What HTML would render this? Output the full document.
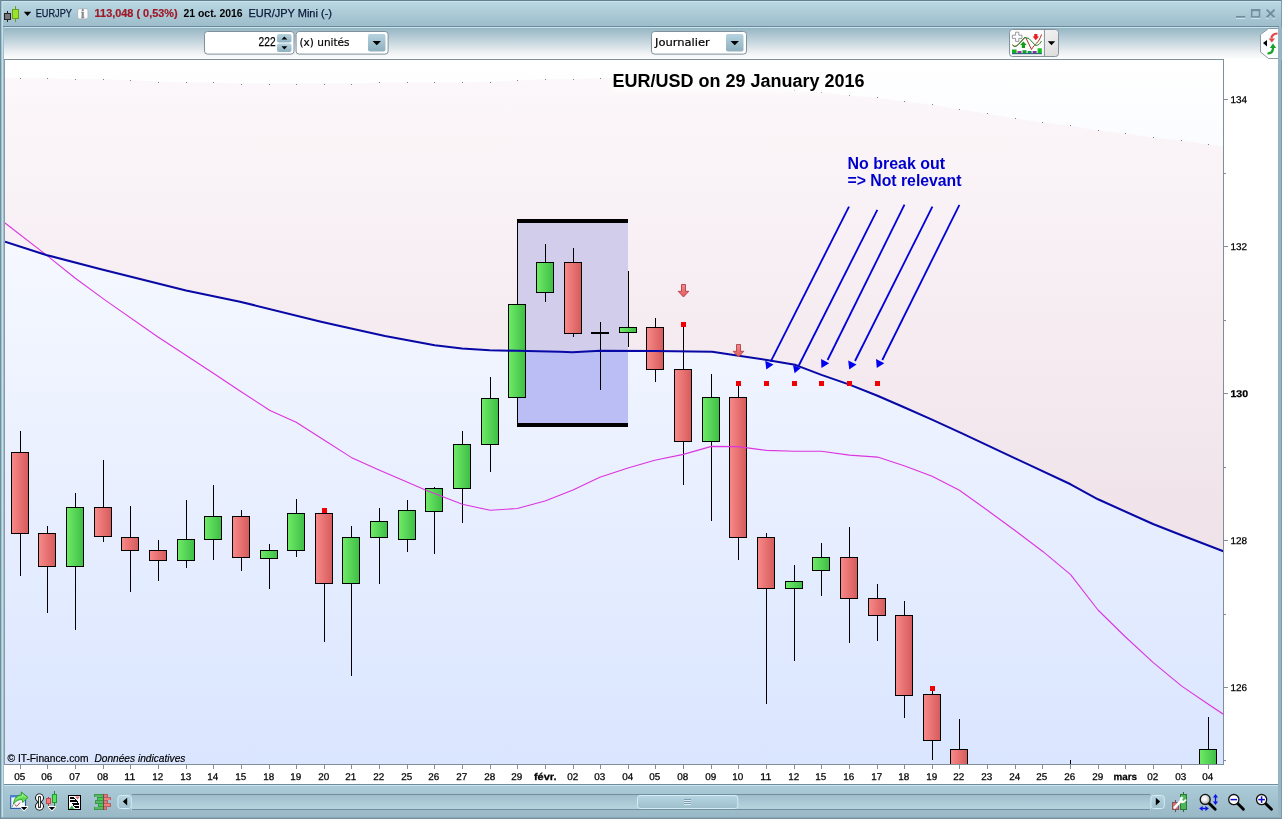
<!DOCTYPE html>
<html lang="fr">
<head>
<meta charset="utf-8">
<title>EURJPY - EUR/JPY Mini</title>
<style>
html,body{margin:0;padding:0;background:#9fbccb;overflow:hidden}
body{width:1282px;height:819px;position:relative;font-family:"Liberation Sans",sans-serif}
svg{position:absolute;left:0;top:0;display:block}
text{font-family:"Liberation Sans",sans-serif;font-size:11px;fill:#000}
.ui{font-family:"Liberation Sans",sans-serif;font-size:11px}
.dv{font-family:"DejaVu Sans","Liberation Sans",sans-serif;font-size:11px;stroke:#000;stroke-width:0.2px}
.ax{font-family:"Liberation Sans",sans-serif;font-size:9.8px;stroke:#000;stroke-width:0.25px;text-rendering:geometricPrecision}
.b{font-weight:bold}
.i{font-style:italic}
.crisp{shape-rendering:crispEdges}
</style>
</head>
<body>
<svg width="1282" height="819" viewBox="0 0 1282 819">
<defs>
<linearGradient id="gTitle" x1="0" y1="0" x2="0" y2="1"><stop offset="0" stop-color="#bcdae5"/><stop offset="0.55" stop-color="#a9c9d6"/><stop offset="1" stop-color="#9cbccb"/></linearGradient>
<linearGradient id="gTool" x1="0" y1="0" x2="0" y2="1"><stop offset="0" stop-color="#95b6c4"/><stop offset="0.5" stop-color="#ccdae1"/><stop offset="0.8" stop-color="#eef1f3"/><stop offset="1" stop-color="#fdfefe"/></linearGradient>
<linearGradient id="gBot" x1="0" y1="0" x2="0" y2="1"><stop offset="0" stop-color="#adccd9"/><stop offset="0.3" stop-color="#a5c5d3"/><stop offset="1" stop-color="#98b8c5"/></linearGradient>
<linearGradient id="gBg" x1="0" y1="0" x2="0" y2="1"><stop offset="0" stop-color="#ffffff"/><stop offset="1" stop-color="#dae5ff"/></linearGradient>
<linearGradient id="gPink" gradientUnits="userSpaceOnUse" x1="0" y1="78" x2="0" y2="552"><stop offset="0" stop-color="#fcf7fa"/><stop offset="1" stop-color="#efe2e8"/></linearGradient>
<linearGradient id="gG" x1="0" y1="0" x2="1" y2="0"><stop offset="0" stop-color="#6eea66"/><stop offset="1" stop-color="#3fbf47"/></linearGradient>
<linearGradient id="gR" x1="0" y1="0" x2="1" y2="0"><stop offset="0" stop-color="#f88888"/><stop offset="1" stop-color="#d65c5c"/></linearGradient>
<linearGradient id="gBtn" x1="0" y1="0" x2="0" y2="1"><stop offset="0" stop-color="#b5d3df"/><stop offset="1" stop-color="#8fb0c0"/></linearGradient>
<linearGradient id="gThumb" x1="0" y1="0" x2="0" y2="1"><stop offset="0" stop-color="#b6d5e2"/><stop offset="1" stop-color="#9fbfcd"/></linearGradient>
<linearGradient id="gArr" x1="0" y1="0" x2="0" y2="1"><stop offset="0" stop-color="#f88a8a"/><stop offset="1" stop-color="#e05a5a"/></linearGradient>
<clipPath id="cChart"><rect x="5" y="60" width="1218" height="704"/></clipPath>
</defs>

<rect x="0" y="0" width="1282" height="819" fill="#9fbdcb"/>
<rect x="0" y="0" width="1282" height="27" fill="url(#gTitle)"/>
<rect class="crisp" x="0" y="0" width="1282" height="1" fill="#65818f"/>
<rect class="crisp" x="0" y="1" width="1282" height="1" fill="#c9e2ec"/>
<rect class="crisp" x="3" y="26" width="1276" height="1" fill="#6c8999"/>
<rect class="crisp" x="3" y="27" width="1276" height="1" fill="#c8e4ef"/>
<rect x="4" y="28" width="1275" height="31" fill="url(#gTool)"/>
<rect class="crisp" x="4" y="59" width="1274" height="726" fill="#ffffff"/>
<rect class="crisp" x="4" y="59" width="1220" height="1" fill="#7f8f99"/>
<rect x="0" y="785" width="1282" height="34" fill="url(#gBot)"/>
<rect class="crisp" x="4" y="784" width="1274" height="1" fill="#708d9c"/>
<rect class="crisp" x="4" y="785" width="1274" height="1" fill="#c8e5f1"/>
<rect class="crisp" x="0" y="817" width="1282" height="1" fill="#8aa9b7"/><rect class="crisp" x="0" y="818" width="1282" height="1" fill="#74919f"/>
<rect class="crisp" x="0" y="0" width="1" height="819" fill="#6f8d9c"/>
<rect class="crisp" x="1" y="1" width="1" height="816" fill="#a3c3d0"/><rect class="crisp" x="2" y="1" width="1" height="816" fill="#c4e0ea"/>
<rect class="crisp" x="3" y="27" width="1" height="789" fill="#9fbfcc"/>
<rect class="crisp" x="4" y="60" width="1" height="705" fill="#8a9aa6"/>
<rect class="crisp" x="1278" y="27" width="4" height="790" fill="#96b5c3"/>
<rect class="crisp" x="1281" y="0" width="1" height="819" fill="#7d9cab"/>
<g clip-path="url(#cChart)">
<rect x="5" y="60" width="1218" height="704" fill="url(#gBg)"/>
<clipPath id="cPink"><polygon points="5,78 20,78.2 47,78.2 75,79.2 103,79.2 130,80.2 158,81.5 186,82.5 213,82.5 241,83.5 269,83.5 296,83.5 324,83.5 351,83.5 379,82.5 407,82.5 434,82.5 462,82.5 490,81.5 517,80.5 545,79.2 573,79.2 600,78.2 628,78.5 655,79.5 683,81 711,82.5 738,84.5 766,86.7 794,90.5 821,92.5 849,95.4 877,97.4 904,101.4 932,104.4 959,109.4 987,113.4 1015,118.4 1042,122.4 1070,125.4 1098,130.4 1125,133.4 1153,137.4 1181,140.4 1208,144.4 1223,146.5 1223.4,551.2 1181,535 1153,524 1098,499.3 1070.6,484.3 1015.7,458.6 962,433.4 932,419.6 904,407.2 877.5,395.8 849.5,384.6 821.4,374.9 801.1,367.1 794.9,364.7 766.8,360 738.7,355.7 712.2,351.8 655,351 600,350.8 572.4,352.3 560,351.8 517,350.8 489.6,350.3 462,348.5 434.7,345.3 385,336 339.9,326.1 320,321.6 240,301.7 186,290.4 100,269 46.2,254.9 5,241.7"/></clipPath>
<polygon points="5,78 20,78.2 47,78.2 75,79.2 103,79.2 130,80.2 158,81.5 186,82.5 213,82.5 241,83.5 269,83.5 296,83.5 324,83.5 351,83.5 379,82.5 407,82.5 434,82.5 462,82.5 490,81.5 517,80.5 545,79.2 573,79.2 600,78.2 628,78.5 655,79.5 683,81 711,82.5 738,84.5 766,86.7 794,90.5 821,92.5 849,95.4 877,97.4 904,101.4 932,104.4 959,109.4 987,113.4 1015,118.4 1042,122.4 1070,125.4 1098,130.4 1125,133.4 1153,137.4 1181,140.4 1208,144.4 1223,146.5 1223.4,551.2 1181,535 1153,524 1098,499.3 1070.6,484.3 1015.7,458.6 962,433.4 932,419.6 904,407.2 877.5,395.8 849.5,384.6 821.4,374.9 801.1,367.1 794.9,364.7 766.8,360 738.7,355.7 712.2,351.8 655,351 600,350.8 572.4,352.3 560,351.8 517,350.8 489.6,350.3 462,348.5 434.7,345.3 385,336 339.9,326.1 320,321.6 240,301.7 186,290.4 100,269 46.2,254.9 5,241.7" fill="url(#gPink)"/>
<rect class="crisp" x="20" y="78" width="1" height="1" fill="#555" opacity="0.75"/>
<rect class="crisp" x="47" y="78" width="1" height="1" fill="#555" opacity="0.75"/>
<rect class="crisp" x="75" y="79" width="1" height="1" fill="#555" opacity="0.75"/>
<rect class="crisp" x="103" y="79" width="1" height="1" fill="#555" opacity="0.75"/>
<rect class="crisp" x="130" y="80" width="1" height="1" fill="#555" opacity="0.75"/>
<rect class="crisp" x="158" y="82" width="1" height="1" fill="#555" opacity="0.75"/>
<rect class="crisp" x="186" y="82" width="1" height="1" fill="#555" opacity="0.75"/>
<rect class="crisp" x="213" y="82" width="1" height="1" fill="#555" opacity="0.75"/>
<rect class="crisp" x="241" y="84" width="1" height="1" fill="#555" opacity="0.75"/>
<rect class="crisp" x="269" y="84" width="1" height="1" fill="#555" opacity="0.75"/>
<rect class="crisp" x="296" y="84" width="1" height="1" fill="#555" opacity="0.75"/>
<rect class="crisp" x="324" y="84" width="1" height="1" fill="#555" opacity="0.75"/>
<rect class="crisp" x="351" y="84" width="1" height="1" fill="#555" opacity="0.75"/>
<rect class="crisp" x="379" y="82" width="1" height="1" fill="#555" opacity="0.75"/>
<rect class="crisp" x="407" y="82" width="1" height="1" fill="#555" opacity="0.75"/>
<rect class="crisp" x="434" y="82" width="1" height="1" fill="#555" opacity="0.75"/>
<rect class="crisp" x="462" y="82" width="1" height="1" fill="#555" opacity="0.75"/>
<rect class="crisp" x="490" y="82" width="1" height="1" fill="#555" opacity="0.75"/>
<rect class="crisp" x="517" y="80" width="1" height="1" fill="#555" opacity="0.75"/>
<rect class="crisp" x="545" y="79" width="1" height="1" fill="#555" opacity="0.75"/>
<rect class="crisp" x="573" y="79" width="1" height="1" fill="#555" opacity="0.75"/>
<rect class="crisp" x="600" y="78" width="1" height="1" fill="#555" opacity="0.75"/>
<rect class="crisp" x="628" y="78" width="1" height="1" fill="#555" opacity="0.75"/>
<rect class="crisp" x="655" y="80" width="1" height="1" fill="#555" opacity="0.75"/>
<rect class="crisp" x="683" y="81" width="1" height="1" fill="#555" opacity="0.75"/>
<rect class="crisp" x="711" y="82" width="1" height="1" fill="#555" opacity="0.75"/>
<rect class="crisp" x="738" y="84" width="1" height="1" fill="#555" opacity="0.75"/>
<rect class="crisp" x="766" y="87" width="1" height="1" fill="#555" opacity="0.75"/>
<rect class="crisp" x="794" y="90" width="1" height="1" fill="#555" opacity="0.75"/>
<rect class="crisp" x="821" y="92" width="1" height="1" fill="#555" opacity="0.75"/>
<rect class="crisp" x="849" y="95" width="1" height="1" fill="#555" opacity="0.75"/>
<rect class="crisp" x="877" y="97" width="1" height="1" fill="#555" opacity="0.75"/>
<rect class="crisp" x="904" y="101" width="1" height="1" fill="#555" opacity="0.75"/>
<rect class="crisp" x="932" y="104" width="1" height="1" fill="#555" opacity="0.75"/>
<rect class="crisp" x="959" y="109" width="1" height="1" fill="#555" opacity="0.75"/>
<rect class="crisp" x="987" y="113" width="1" height="1" fill="#555" opacity="0.75"/>
<rect class="crisp" x="1015" y="118" width="1" height="1" fill="#555" opacity="0.75"/>
<rect class="crisp" x="1042" y="122" width="1" height="1" fill="#555" opacity="0.75"/>
<rect class="crisp" x="1070" y="125" width="1" height="1" fill="#555" opacity="0.75"/>
<rect class="crisp" x="1098" y="130" width="1" height="1" fill="#555" opacity="0.75"/>
<rect class="crisp" x="1125" y="133" width="1" height="1" fill="#555" opacity="0.75"/>
<rect class="crisp" x="1153" y="137" width="1" height="1" fill="#555" opacity="0.75"/>
<rect class="crisp" x="1181" y="140" width="1" height="1" fill="#555" opacity="0.75"/>
<rect class="crisp" x="1208" y="144" width="1" height="1" fill="#555" opacity="0.75"/>
<rect class="crisp" x="518" y="221" width="110" height="204" fill="#babef4"/>
<rect class="crisp" x="518" y="221" width="110" height="204" fill="#d3cdec" clip-path="url(#cPink)"/>
<rect class="crisp" x="517" y="219" width="111" height="4" fill="#000"/>
<rect class="crisp" x="517" y="423" width="111" height="4" fill="#000"/>
<rect class="crisp" x="20" y="431" width="1" height="145" fill="#000"/>
<rect class="crisp" x="11" y="452" width="18" height="82" fill="#000"/>
<rect class="crisp" x="12" y="453" width="16" height="80" fill="url(#gR)"/>
<rect class="crisp" x="47" y="526" width="1" height="87" fill="#000"/>
<rect class="crisp" x="38" y="533" width="18" height="34" fill="#000"/>
<rect class="crisp" x="39" y="534" width="16" height="32" fill="url(#gR)"/>
<rect class="crisp" x="75" y="493" width="1" height="137" fill="#000"/>
<rect class="crisp" x="66" y="507" width="18" height="60" fill="#000"/>
<rect class="crisp" x="67" y="508" width="16" height="58" fill="url(#gG)"/>
<rect class="crisp" x="103" y="460" width="1" height="82" fill="#000"/>
<rect class="crisp" x="94" y="507" width="18" height="30" fill="#000"/>
<rect class="crisp" x="95" y="508" width="16" height="28" fill="url(#gR)"/>
<rect class="crisp" x="130" y="506" width="1" height="86" fill="#000"/>
<rect class="crisp" x="121" y="537" width="18" height="14" fill="#000"/>
<rect class="crisp" x="122" y="538" width="16" height="12" fill="url(#gR)"/>
<rect class="crisp" x="158" y="540" width="1" height="41" fill="#000"/>
<rect class="crisp" x="149" y="550" width="18" height="11" fill="#000"/>
<rect class="crisp" x="150" y="551" width="16" height="9" fill="url(#gR)"/>
<rect class="crisp" x="186" y="500" width="1" height="68" fill="#000"/>
<rect class="crisp" x="177" y="539" width="18" height="22" fill="#000"/>
<rect class="crisp" x="178" y="540" width="16" height="20" fill="url(#gG)"/>
<rect class="crisp" x="213" y="485" width="1" height="75" fill="#000"/>
<rect class="crisp" x="204" y="516" width="18" height="24" fill="#000"/>
<rect class="crisp" x="205" y="517" width="16" height="22" fill="url(#gG)"/>
<rect class="crisp" x="241" y="510" width="1" height="61" fill="#000"/>
<rect class="crisp" x="232" y="516" width="18" height="42" fill="#000"/>
<rect class="crisp" x="233" y="517" width="16" height="40" fill="url(#gR)"/>
<rect class="crisp" x="269" y="544" width="1" height="45" fill="#000"/>
<rect class="crisp" x="260" y="550" width="18" height="9" fill="#000"/>
<rect class="crisp" x="261" y="551" width="16" height="7" fill="url(#gG)"/>
<rect class="crisp" x="296" y="499" width="1" height="58" fill="#000"/>
<rect class="crisp" x="287" y="513" width="18" height="38" fill="#000"/>
<rect class="crisp" x="288" y="514" width="16" height="36" fill="url(#gG)"/>
<rect class="crisp" x="324" y="513" width="1" height="129" fill="#000"/>
<rect class="crisp" x="315" y="513" width="18" height="71" fill="#000"/>
<rect class="crisp" x="316" y="514" width="16" height="69" fill="url(#gR)"/>
<rect class="crisp" x="351" y="526" width="1" height="150" fill="#000"/>
<rect class="crisp" x="342" y="537" width="18" height="47" fill="#000"/>
<rect class="crisp" x="343" y="538" width="16" height="45" fill="url(#gG)"/>
<rect class="crisp" x="379" y="508" width="1" height="76" fill="#000"/>
<rect class="crisp" x="370" y="521" width="18" height="17" fill="#000"/>
<rect class="crisp" x="371" y="522" width="16" height="15" fill="url(#gG)"/>
<rect class="crisp" x="407" y="500" width="1" height="52" fill="#000"/>
<rect class="crisp" x="398" y="510" width="18" height="30" fill="#000"/>
<rect class="crisp" x="399" y="511" width="16" height="28" fill="url(#gG)"/>
<rect class="crisp" x="434" y="487" width="1" height="67" fill="#000"/>
<rect class="crisp" x="425" y="488" width="18" height="24" fill="#000"/>
<rect class="crisp" x="426" y="489" width="16" height="22" fill="url(#gG)"/>
<rect class="crisp" x="462" y="431" width="1" height="92" fill="#000"/>
<rect class="crisp" x="453" y="444" width="18" height="45" fill="#000"/>
<rect class="crisp" x="454" y="445" width="16" height="43" fill="url(#gG)"/>
<rect class="crisp" x="490" y="377" width="1" height="95" fill="#000"/>
<rect class="crisp" x="481" y="398" width="18" height="47" fill="#000"/>
<rect class="crisp" x="482" y="399" width="16" height="45" fill="url(#gG)"/>
<rect class="crisp" x="517" y="221" width="1" height="204" fill="#000"/>
<rect class="crisp" x="508" y="304" width="18" height="94" fill="#000"/>
<rect class="crisp" x="509" y="305" width="16" height="92" fill="url(#gG)"/>
<rect class="crisp" x="545" y="244" width="1" height="58" fill="#000"/>
<rect class="crisp" x="536" y="262" width="18" height="31" fill="#000"/>
<rect class="crisp" x="537" y="263" width="16" height="29" fill="url(#gG)"/>
<rect class="crisp" x="573" y="248" width="1" height="89" fill="#000"/>
<rect class="crisp" x="564" y="262" width="18" height="72" fill="#000"/>
<rect class="crisp" x="565" y="263" width="16" height="70" fill="url(#gR)"/>
<rect class="crisp" x="600" y="322" width="1" height="68" fill="#000"/>
<rect class="crisp" x="591" y="332" width="18" height="2" fill="#000"/>
<rect class="crisp" x="628" y="271" width="1" height="76" fill="#000"/>
<rect class="crisp" x="619" y="327" width="18" height="6" fill="#000"/>
<rect class="crisp" x="620" y="328" width="16" height="4" fill="url(#gG)"/>
<rect class="crisp" x="655" y="318" width="1" height="64" fill="#000"/>
<rect class="crisp" x="646" y="327" width="18" height="43" fill="#000"/>
<rect class="crisp" x="647" y="328" width="16" height="41" fill="url(#gR)"/>
<rect class="crisp" x="683" y="326" width="1" height="159" fill="#000"/>
<rect class="crisp" x="674" y="369" width="18" height="73" fill="#000"/>
<rect class="crisp" x="675" y="370" width="16" height="71" fill="url(#gR)"/>
<rect class="crisp" x="711" y="374" width="1" height="147" fill="#000"/>
<rect class="crisp" x="702" y="397" width="18" height="45" fill="#000"/>
<rect class="crisp" x="703" y="398" width="16" height="43" fill="url(#gG)"/>
<rect class="crisp" x="738" y="386" width="1" height="174" fill="#000"/>
<rect class="crisp" x="729" y="397" width="18" height="141" fill="#000"/>
<rect class="crisp" x="730" y="398" width="16" height="139" fill="url(#gR)"/>
<rect class="crisp" x="766" y="533" width="1" height="171" fill="#000"/>
<rect class="crisp" x="757" y="537" width="18" height="52" fill="#000"/>
<rect class="crisp" x="758" y="538" width="16" height="50" fill="url(#gR)"/>
<rect class="crisp" x="794" y="565" width="1" height="96" fill="#000"/>
<rect class="crisp" x="785" y="581" width="18" height="8" fill="#000"/>
<rect class="crisp" x="786" y="582" width="16" height="6" fill="url(#gG)"/>
<rect class="crisp" x="821" y="543" width="1" height="53" fill="#000"/>
<rect class="crisp" x="812" y="557" width="18" height="14" fill="#000"/>
<rect class="crisp" x="813" y="558" width="16" height="12" fill="url(#gG)"/>
<rect class="crisp" x="849" y="527" width="1" height="116" fill="#000"/>
<rect class="crisp" x="840" y="557" width="18" height="42" fill="#000"/>
<rect class="crisp" x="841" y="558" width="16" height="40" fill="url(#gR)"/>
<rect class="crisp" x="877" y="584" width="1" height="57" fill="#000"/>
<rect class="crisp" x="868" y="598" width="18" height="18" fill="#000"/>
<rect class="crisp" x="869" y="599" width="16" height="16" fill="url(#gR)"/>
<rect class="crisp" x="904" y="601" width="1" height="117" fill="#000"/>
<rect class="crisp" x="895" y="615" width="18" height="81" fill="#000"/>
<rect class="crisp" x="896" y="616" width="16" height="79" fill="url(#gR)"/>
<rect class="crisp" x="932" y="690" width="1" height="70" fill="#000"/>
<rect class="crisp" x="923" y="694" width="18" height="47" fill="#000"/>
<rect class="crisp" x="924" y="695" width="16" height="45" fill="url(#gR)"/>
<rect class="crisp" x="959" y="719" width="1" height="51" fill="#000"/>
<rect class="crisp" x="950" y="749" width="18" height="22" fill="#000"/>
<rect class="crisp" x="951" y="750" width="16" height="20" fill="url(#gR)"/>
<rect class="crisp" x="1208" y="717" width="1" height="53" fill="#000"/>
<rect class="crisp" x="1199" y="749" width="18" height="22" fill="#000"/>
<rect class="crisp" x="1200" y="750" width="16" height="20" fill="url(#gG)"/>
<rect class="crisp" x="1070" y="760" width="1" height="4" fill="#000"/>
<polyline points="5,223 46.2,254.9 75,278 104.8,299.9 158,337 213,373 240,391 270,410.5 296.2,422.2 323.6,439.7 351.2,457.4 379,470 407,482 424.8,489.8 462.3,504.3 490.2,510.3 517.2,508.5 545,501 573,490 599.8,477.3 628,468 654.7,460.3 683.4,454.4 711.4,446.4 738.4,446.6 766.3,450.4 794,451.2 821.3,451.2 849.4,455.1 877.5,457.1 904.8,466 932.1,476.2 959.4,490.2 987,510 1015,530.5 1043.1,551.7 1070.6,574.7 1098,610 1125,636.5 1153,662.4 1181.7,686.1 1209.1,704.8 1223.4,714.3" fill="none" stroke="#dc34de" stroke-width="1.1" stroke-linejoin="round"/>
<polyline points="5,241.7 46.2,254.9 100,269 186,290.4 240,301.7 320,321.6 339.9,326.1 385,336 434.7,345.3 462,348.5 489.6,350.3 517,350.8 560,351.8 572.4,352.3 600,350.8 655,351 712.2,351.8 738.7,355.7 766.8,360 794.9,364.7 801.1,367.1 821.4,374.9 849.5,384.6 877.5,395.8 904,407.2 932,419.6 962,433.4 1015.7,458.6 1070.6,484.3 1098,499.3 1153,524 1181,535 1223.4,551.2" fill="none" stroke="#0808a6" stroke-width="2.05" stroke-linejoin="round"/>
<rect class="crisp" x="322" y="508" width="5" height="5" fill="#f00000"/>
<rect class="crisp" x="681" y="322" width="5" height="5" fill="#f00000"/>
<rect class="crisp" x="736" y="381" width="5" height="5" fill="#f00000"/>
<rect class="crisp" x="764" y="381" width="5" height="5" fill="#f00000"/>
<rect class="crisp" x="792" y="381" width="5" height="5" fill="#f00000"/>
<rect class="crisp" x="819" y="381" width="5" height="5" fill="#f00000"/>
<rect class="crisp" x="847" y="381" width="5" height="5" fill="#f00000"/>
<rect class="crisp" x="875" y="381" width="5" height="5" fill="#f00000"/>
<rect class="crisp" x="930" y="686" width="5" height="5" fill="#f00000"/>
<path d="M681.5,284.5 h4 v6.8 h3.3 L683.5,297 L678.2,291.3 h3.3 z" fill="url(#gArr)" stroke="#b04048" stroke-width="0.9" stroke-linejoin="round"/>
<path d="M736.5,344.5 h4 v6.8 h3.3 L738.5,357 L733.2,351.3 h3.3 z" fill="url(#gArr)" stroke="#b04048" stroke-width="0.9" stroke-linejoin="round"/>
<line x1="849" y1="206.6" x2="770.7" y2="361.6" stroke="#0000dc" stroke-width="1.8"/>
<polygon points="765.2,360.8 773.5,364.4 766.3,369.4" fill="#0000f0"/>
<line x1="877.3" y1="209.9" x2="798.8" y2="365.5" stroke="#0000dc" stroke-width="1.8"/>
<polygon points="793,365.2 800.8,367.9 794.6,373.3" fill="#0000f0"/>
<line x1="904.5" y1="204.7" x2="827.6" y2="360" stroke="#0000dc" stroke-width="1.8"/>
<polygon points="821.1,359 829.2,363.2 821.4,367.9" fill="#0000f0"/>
<line x1="932.4" y1="206.6" x2="855" y2="361" stroke="#0000dc" stroke-width="1.8"/>
<polygon points="848.2,360.5 856.5,364.4 849.2,369.4" fill="#0000f0"/>
<line x1="959.4" y1="204.9" x2="882.3" y2="360" stroke="#0000dc" stroke-width="1.8"/>
<polygon points="876,359 884.3,363.2 876.8,367.9" fill="#0000f0"/>
</g>
<filter id="fBlur" x="-10%" y="-50%" width="120%" height="200%"><feGaussianBlur stdDeviation="3"/></filter>
<rect x="612" y="70" width="253" height="22" fill="#fff" opacity="0.75" filter="url(#fBlur)"/>
<text x="612.5" y="86.8" style="font-size:18px;font-weight:bold" textLength="252" lengthAdjust="spacingAndGlyphs">EUR/USD on 29 January 2016</text>
<text x="847.5" y="169.3" style="font-size:16px;font-weight:bold;fill:#0000cc" textLength="97.5" lengthAdjust="spacingAndGlyphs">No break out</text>
<text x="847.5" y="186.3" style="font-size:16px;font-weight:bold;fill:#0000cc" textLength="114" lengthAdjust="spacingAndGlyphs">=&gt; Not relevant</text>
<text x="7.5" y="762" class="ui" style="stroke:#000;stroke-width:0.2px" textLength="81" lengthAdjust="spacingAndGlyphs">© IT-Finance.com</text>
<text x="94.4" y="762" class="ui i" style="stroke:#000;stroke-width:0.2px" textLength="91" lengthAdjust="spacingAndGlyphs">Données indicatives</text>
<rect class="crisp" x="5" y="764" width="1219" height="1" fill="#7f8f99"/>
<rect class="crisp" x="1223" y="60" width="1" height="705" fill="#7f8f99"/>
<rect class="crisp" x="20" y="765" width="1" height="4" fill="#7f8f99"/>
<text x="14.3" y="779.9" class="ax" textLength="11.0" lengthAdjust="spacingAndGlyphs">05</text>
<rect class="crisp" x="47" y="765" width="1" height="4" fill="#7f8f99"/>
<text x="41.3" y="779.9" class="ax" textLength="11.0" lengthAdjust="spacingAndGlyphs">06</text>
<rect class="crisp" x="75" y="765" width="1" height="4" fill="#7f8f99"/>
<text x="69.3" y="779.9" class="ax" textLength="11.0" lengthAdjust="spacingAndGlyphs">07</text>
<rect class="crisp" x="103" y="765" width="1" height="4" fill="#7f8f99"/>
<text x="97.3" y="779.9" class="ax" textLength="11.0" lengthAdjust="spacingAndGlyphs">08</text>
<rect class="crisp" x="130" y="765" width="1" height="4" fill="#7f8f99"/>
<text x="124.3" y="779.9" class="ax" textLength="11.0" lengthAdjust="spacingAndGlyphs">11</text>
<rect class="crisp" x="158" y="765" width="1" height="4" fill="#7f8f99"/>
<text x="152.3" y="779.9" class="ax" textLength="11.0" lengthAdjust="spacingAndGlyphs">12</text>
<rect class="crisp" x="186" y="765" width="1" height="4" fill="#7f8f99"/>
<text x="180.3" y="779.9" class="ax" textLength="11.0" lengthAdjust="spacingAndGlyphs">13</text>
<rect class="crisp" x="213" y="765" width="1" height="4" fill="#7f8f99"/>
<text x="207.3" y="779.9" class="ax" textLength="11.0" lengthAdjust="spacingAndGlyphs">14</text>
<rect class="crisp" x="241" y="765" width="1" height="4" fill="#7f8f99"/>
<text x="235.3" y="779.9" class="ax" textLength="11.0" lengthAdjust="spacingAndGlyphs">15</text>
<rect class="crisp" x="269" y="765" width="1" height="4" fill="#7f8f99"/>
<text x="263.3" y="779.9" class="ax" textLength="11.0" lengthAdjust="spacingAndGlyphs">18</text>
<rect class="crisp" x="296" y="765" width="1" height="4" fill="#7f8f99"/>
<text x="290.3" y="779.9" class="ax" textLength="11.0" lengthAdjust="spacingAndGlyphs">19</text>
<rect class="crisp" x="324" y="765" width="1" height="4" fill="#7f8f99"/>
<text x="318.3" y="779.9" class="ax" textLength="11.0" lengthAdjust="spacingAndGlyphs">20</text>
<rect class="crisp" x="351" y="765" width="1" height="4" fill="#7f8f99"/>
<text x="345.3" y="779.9" class="ax" textLength="11.0" lengthAdjust="spacingAndGlyphs">21</text>
<rect class="crisp" x="379" y="765" width="1" height="4" fill="#7f8f99"/>
<text x="373.3" y="779.9" class="ax" textLength="11.0" lengthAdjust="spacingAndGlyphs">22</text>
<rect class="crisp" x="407" y="765" width="1" height="4" fill="#7f8f99"/>
<text x="401.3" y="779.9" class="ax" textLength="11.0" lengthAdjust="spacingAndGlyphs">25</text>
<rect class="crisp" x="434" y="765" width="1" height="4" fill="#7f8f99"/>
<text x="428.3" y="779.9" class="ax" textLength="11.0" lengthAdjust="spacingAndGlyphs">26</text>
<rect class="crisp" x="462" y="765" width="1" height="4" fill="#7f8f99"/>
<text x="456.3" y="779.9" class="ax" textLength="11.0" lengthAdjust="spacingAndGlyphs">27</text>
<rect class="crisp" x="490" y="765" width="1" height="4" fill="#7f8f99"/>
<text x="484.3" y="779.9" class="ax" textLength="11.0" lengthAdjust="spacingAndGlyphs">28</text>
<rect class="crisp" x="517" y="765" width="1" height="4" fill="#7f8f99"/>
<text x="511.3" y="779.9" class="ax" textLength="11.0" lengthAdjust="spacingAndGlyphs">29</text>
<rect class="crisp" x="545" y="765" width="1" height="4" fill="#7f8f99"/>
<text x="533.9" y="779.9" class="ax b" textLength="22.7" lengthAdjust="spacingAndGlyphs">févr.</text>
<rect class="crisp" x="573" y="765" width="1" height="4" fill="#7f8f99"/>
<text x="567.3" y="779.9" class="ax" textLength="11.0" lengthAdjust="spacingAndGlyphs">02</text>
<rect class="crisp" x="600" y="765" width="1" height="4" fill="#7f8f99"/>
<text x="594.3" y="779.9" class="ax" textLength="11.0" lengthAdjust="spacingAndGlyphs">03</text>
<rect class="crisp" x="628" y="765" width="1" height="4" fill="#7f8f99"/>
<text x="622.3" y="779.9" class="ax" textLength="11.0" lengthAdjust="spacingAndGlyphs">04</text>
<rect class="crisp" x="655" y="765" width="1" height="4" fill="#7f8f99"/>
<text x="649.3" y="779.9" class="ax" textLength="11.0" lengthAdjust="spacingAndGlyphs">05</text>
<rect class="crisp" x="683" y="765" width="1" height="4" fill="#7f8f99"/>
<text x="677.3" y="779.9" class="ax" textLength="11.0" lengthAdjust="spacingAndGlyphs">08</text>
<rect class="crisp" x="711" y="765" width="1" height="4" fill="#7f8f99"/>
<text x="705.3" y="779.9" class="ax" textLength="11.0" lengthAdjust="spacingAndGlyphs">09</text>
<rect class="crisp" x="738" y="765" width="1" height="4" fill="#7f8f99"/>
<text x="732.3" y="779.9" class="ax" textLength="11.0" lengthAdjust="spacingAndGlyphs">10</text>
<rect class="crisp" x="766" y="765" width="1" height="4" fill="#7f8f99"/>
<text x="760.3" y="779.9" class="ax" textLength="11.0" lengthAdjust="spacingAndGlyphs">11</text>
<rect class="crisp" x="794" y="765" width="1" height="4" fill="#7f8f99"/>
<text x="788.3" y="779.9" class="ax" textLength="11.0" lengthAdjust="spacingAndGlyphs">12</text>
<rect class="crisp" x="821" y="765" width="1" height="4" fill="#7f8f99"/>
<text x="815.3" y="779.9" class="ax" textLength="11.0" lengthAdjust="spacingAndGlyphs">15</text>
<rect class="crisp" x="849" y="765" width="1" height="4" fill="#7f8f99"/>
<text x="843.3" y="779.9" class="ax" textLength="11.0" lengthAdjust="spacingAndGlyphs">16</text>
<rect class="crisp" x="877" y="765" width="1" height="4" fill="#7f8f99"/>
<text x="871.3" y="779.9" class="ax" textLength="11.0" lengthAdjust="spacingAndGlyphs">17</text>
<rect class="crisp" x="904" y="765" width="1" height="4" fill="#7f8f99"/>
<text x="898.3" y="779.9" class="ax" textLength="11.0" lengthAdjust="spacingAndGlyphs">18</text>
<rect class="crisp" x="932" y="765" width="1" height="4" fill="#7f8f99"/>
<text x="926.3" y="779.9" class="ax" textLength="11.0" lengthAdjust="spacingAndGlyphs">19</text>
<rect class="crisp" x="959" y="765" width="1" height="4" fill="#7f8f99"/>
<text x="953.3" y="779.9" class="ax" textLength="11.0" lengthAdjust="spacingAndGlyphs">22</text>
<rect class="crisp" x="987" y="765" width="1" height="4" fill="#7f8f99"/>
<text x="981.3" y="779.9" class="ax" textLength="11.0" lengthAdjust="spacingAndGlyphs">23</text>
<rect class="crisp" x="1015" y="765" width="1" height="4" fill="#7f8f99"/>
<text x="1009.3" y="779.9" class="ax" textLength="11.0" lengthAdjust="spacingAndGlyphs">24</text>
<rect class="crisp" x="1042" y="765" width="1" height="4" fill="#7f8f99"/>
<text x="1036.3" y="779.9" class="ax" textLength="11.0" lengthAdjust="spacingAndGlyphs">25</text>
<rect class="crisp" x="1070" y="765" width="1" height="4" fill="#7f8f99"/>
<text x="1064.3" y="779.9" class="ax" textLength="11.0" lengthAdjust="spacingAndGlyphs">26</text>
<rect class="crisp" x="1098" y="765" width="1" height="4" fill="#7f8f99"/>
<text x="1092.3" y="779.9" class="ax" textLength="11.0" lengthAdjust="spacingAndGlyphs">29</text>
<rect class="crisp" x="1125" y="765" width="1" height="4" fill="#7f8f99"/>
<text x="1113.5" y="779.9" class="ax b" textLength="23.5" lengthAdjust="spacingAndGlyphs">mars</text>
<rect class="crisp" x="1153" y="765" width="1" height="4" fill="#7f8f99"/>
<text x="1147.3" y="779.9" class="ax" textLength="11.0" lengthAdjust="spacingAndGlyphs">02</text>
<rect class="crisp" x="1181" y="765" width="1" height="4" fill="#7f8f99"/>
<text x="1175.3" y="779.9" class="ax" textLength="11.0" lengthAdjust="spacingAndGlyphs">03</text>
<rect class="crisp" x="1208" y="765" width="1" height="4" fill="#7f8f99"/>
<text x="1202.3" y="779.9" class="ax" textLength="11.0" lengthAdjust="spacingAndGlyphs">04</text>
<rect class="crisp" x="1224" y="99" width="4" height="1" fill="#7f8f99"/>
<text x="1230.5" y="103.1" class="ax" textLength="16.6" lengthAdjust="spacingAndGlyphs">134</text>
<rect class="crisp" x="1224" y="246" width="4" height="1" fill="#7f8f99"/>
<text x="1230.5" y="250.1" class="ax" textLength="16.6" lengthAdjust="spacingAndGlyphs">132</text>
<rect class="crisp" x="1224" y="393" width="4" height="1" fill="#7f8f99"/>
<text x="1230.5" y="397.1" class="ax b" textLength="17.6" lengthAdjust="spacingAndGlyphs">130</text>
<rect class="crisp" x="1224" y="540" width="4" height="1" fill="#7f8f99"/>
<text x="1230.5" y="544.1" class="ax" textLength="16.6" lengthAdjust="spacingAndGlyphs">128</text>
<rect class="crisp" x="1224" y="687" width="4" height="1" fill="#7f8f99"/>
<text x="1230.5" y="691.1" class="ax" textLength="16.6" lengthAdjust="spacingAndGlyphs">126</text>
<rect class="crisp" x="1224" y="173" width="2" height="1" fill="#7f8f99"/>
<rect class="crisp" x="1224" y="320" width="2" height="1" fill="#7f8f99"/>
<rect class="crisp" x="1224" y="467" width="2" height="1" fill="#7f8f99"/>
<rect class="crisp" x="1224" y="614" width="2" height="1" fill="#7f8f99"/>
<rect class="crisp" x="1224" y="760" width="2" height="1" fill="#7f8f99"/>
<g class="crisp">
<rect x="7" y="11" width="1" height="11" fill="#222"/><rect x="4" y="13" width="7" height="7" fill="#222"/><rect x="5" y="14" width="5" height="5" fill="#777"/>
<rect x="15" y="6" width="1" height="16" fill="#6aa018"/><rect x="12" y="9" width="7" height="10" fill="#6aa018"/><rect x="13" y="10" width="5" height="8" fill="#9be22a"/>
</g>
<polygon points="23.8,11.7 31.2,11.7 27.5,16.1" fill="#000"/>
<text x="35.7" y="16.6" class="ui" style="fill:#0c1838;stroke:#0c1838;stroke-width:0.25px" textLength="36.2" lengthAdjust="spacingAndGlyphs">EURJPY</text>
<rect x="77.6" y="8.6" width="10.4" height="10.4" rx="2" fill="#fcfcfc" stroke="#a9b6bd" stroke-width="0.9"/>
<text x="82.8" y="17.6" text-anchor="middle" style="font-family:'Liberation Serif',serif;font-size:12.5px;font-weight:bold;fill:#858a8c;stroke:#858a8c;stroke-width:0.3px">i</text>
<text x="94.6" y="16.6" class="ui b" style="fill:#9e1a28;stroke:#9e1a28;stroke-width:0.2px" textLength="83.1" lengthAdjust="spacingAndGlyphs" xml:space="preserve">113,048 ( 0,53%)</text>
<text x="183.5" y="16.6" class="ui b" textLength="59.1" lengthAdjust="spacingAndGlyphs">21 oct. 2016</text>
<text x="248.4" y="16.6" class="ui" style="fill:#0c1838;stroke:#0c1838;stroke-width:0.25px" textLength="83.6" lengthAdjust="spacingAndGlyphs">EUR/JPY Mini (-)</text>
<g fill="none" stroke="#d3e6ee" stroke-width="1">
<line x1="1236" y1="18.4" x2="1245.2" y2="18.4"/><line x1="1251" y1="18.4" x2="1260.2" y2="18.4"/><path d="M1266,18.4 h2.4 M1272.8,18.4 h2.4"/>
</g>
<g fill="none" stroke="#728e9d" stroke-width="1.5">
<line x1="1236" y1="16.8" x2="1245.2" y2="16.8" stroke-width="1.7"/>
<rect x="1251.7" y="9.9" width="7.8" height="7"/><line x1="1251" y1="10.2" x2="1260.2" y2="10.2" stroke-width="2"/>
<path d="M1266.6,9.6 l8,7.8 M1274.6,9.6 l-8,7.8" stroke-width="1.9"/>
</g>
<rect x="204.5" y="31.5" width="89.5" height="22.6" rx="3" fill="#ffffff" stroke="#80909b" stroke-width="1"/>
<text x="258.6" y="46.4" class="ui" style="font-size:12px;stroke:#000;stroke-width:0.25px" textLength="17" lengthAdjust="spacingAndGlyphs">222</text>
<rect x="277" y="34" width="14.5" height="8.5" rx="2" fill="url(#gBtn)"/><rect x="277" y="43.5" width="14.5" height="8.5" rx="2" fill="url(#gBtn)"/>
<polygon points="281.5,39.6 287.3,39.6 284.4,36.4" fill="#000"/><polygon points="281.5,46.2 287.3,46.2 284.4,49.4" fill="#000"/>
<rect x="296.1" y="31.5" width="92" height="22.6" rx="3" fill="#ffffff" stroke="#80909b" stroke-width="1"/>
<text x="299.5" y="46.4" class="dv" textLength="50" lengthAdjust="spacingAndGlyphs">(x) unités</text>
<rect x="368" y="34" width="17.5" height="17.5" rx="2" fill="url(#gBtn)"/>
<polygon points="372.55,40.95 380.95,40.95 376.75,45.35" fill="#000"/>
<rect x="651.5" y="31.5" width="95" height="22.6" rx="3" fill="#ffffff" stroke="#80909b" stroke-width="1"/>
<text x="655" y="46.4" class="dv" textLength="54.8" lengthAdjust="spacingAndGlyphs">Journalier</text>
<rect x="726" y="34" width="17.5" height="17.5" rx="2" fill="url(#gBtn)"/>
<polygon points="730.55,40.95 738.95,40.95 734.75,45.35" fill="#000"/>
<linearGradient id="gDD" x1="0" y1="0" x2="1" y2="1"><stop offset="0" stop-color="#ffffff"/><stop offset="1" stop-color="#dcdcdc"/></linearGradient>
<rect x="1009.5" y="29.5" width="49" height="27" rx="3" fill="url(#gDD)" stroke="#84939d" stroke-width="1"/>
<rect x="1010.5" y="30.5" width="33" height="25" rx="2" fill="#fdfdfd"/>
<line x1="1044.5" y1="30" x2="1044.5" y2="56" stroke="#8c9aa4" stroke-width="1"/>
<polygon points="1047.8,41.3 1055.2,41.3 1051.5,45.2" fill="#000"/>
<g>
<path d="M1012.5,44.5 C1014,47 1016,46.5 1018,44.5 L1025.5,37 L1031.5,49.5 C1035,43 1038.5,44 1041.5,34.5" fill="none" stroke="#b03020" stroke-width="1"/>
<path d="M1012.5,45 C1014.5,47.5 1016.5,46.5 1018.5,44.5 L1024.5,37.5 L1029,38.5 L1035.5,45.5 C1038,45.5 1040,44 1041.5,41" fill="none" stroke="#1f8a2a" stroke-width="1"/>
<path d="M1018,34 h3.2 v-3 h3.2 v3 h3.2 v3.2 h-3.2 v3 h-3.2 v-3 h-3.2 z" transform="translate(-5.6,1.2)" fill="#fff" stroke="#8a8f96" stroke-width="0.9"/>
<path d="M1034.2,34 h3.2 v2.6 h1.6 l-3.2,3.6 l-3.2,-3.6 h1.6 z" fill="#e82020"/>
<path d="M1021.8,48 v-3 h-1.7 l3.3,-3.4 l3.3,3.4 h-1.7 v3 z" fill="#10a018"/>
<rect x="1012" y="49.5" width="4.6" height="4" fill="#10b020"/><rect x="1017.5" y="51" width="4" height="2.5" fill="#a030a0"/><rect x="1022.5" y="50.2" width="4" height="3.3" fill="#10a030"/><rect x="1027.6" y="51" width="4" height="2.5" fill="#189050"/><rect x="1032.6" y="51" width="4" height="2.5" fill="#8030a0"/><rect x="1037.6" y="48.3" width="4.2" height="5.2" fill="#10c020"/>
<rect x="1012" y="53.2" width="30" height="1" fill="#105070"/>
</g>
<path d="M1282,28.5 L1268.5,28.5 L1260.5,34.5 L1260.5,52 L1268.5,58.5 L1282,58.5" fill="#fbfcfd" stroke="#8c9aa4" stroke-width="1"/>
<rect x="1278" y="27" width="4" height="33" fill="#96b5c3"/>
<polygon points="1263,43 1267,40 1267,46.5" fill="#000"/>
<path d="M1277.5,33.5 C1273,33.8 1271.5,36 1271.5,38.5" fill="none" stroke="#e04848" stroke-width="2.2"/><polygon points="1268.6,38.6 1275,38.6 1271.8,42.6" fill="#e04848"/>
<path d="M1267.5,53.5 C1271.5,53.5 1273,51 1273,48" fill="none" stroke="#18a028" stroke-width="2.2"/><polygon points="1269.8,48 1276.2,48 1273,43.6" fill="#18a028"/>
<linearGradient id="gTrack" x1="0" y1="0" x2="0" y2="1"><stop offset="0" stop-color="#9dbcc9"/><stop offset="1" stop-color="#b8d6e2"/></linearGradient>
<rect x="131" y="794" width="1020" height="16" fill="url(#gTrack)"/>
<rect class="crisp" x="132" y="794" width="1018" height="1" fill="#708e9c"/>
<rect class="crisp" x="132" y="809" width="1018" height="1" fill="#708e9c"/>
<rect x="117.9" y="795.5" width="13.4" height="13" rx="2.6" fill="url(#gThumb)" stroke="#d3ecf5" stroke-width="1"/>
<polygon points="122.8,801.6 127.2,797.8 127.2,805.4" fill="#000"/>
<rect x="1150.9" y="795.5" width="13.4" height="13" rx="2.6" fill="url(#gThumb)" stroke="#d3ecf5" stroke-width="1"/>
<polygon points="1160.2,801.6 1155.8,797.8 1155.8,805.4" fill="#000"/>
<rect x="637.5" y="795.5" width="100.3" height="13" rx="2.6" fill="url(#gThumb)" stroke="#d3ecf5" stroke-width="1"/>
<g class="crisp" fill="#7e9dac"><rect x="684" y="799" width="7" height="1"/><rect x="684" y="801" width="7" height="1"/><rect x="684" y="803" width="7" height="1"/></g>
<g class="crisp" fill="#d9ecf3"><rect x="684" y="800" width="7" height="1"/><rect x="684" y="802" width="7" height="1"/><rect x="684" y="804" width="7" height="1"/></g>
<g>
<rect x="10.7" y="796" width="14.8" height="12.4" fill="#f6f9ff" stroke="#2a58a8" stroke-width="1.15"/><rect x="10.2" y="795.2" width="15.8" height="2.2" fill="#4a80d0"/>
<path d="M15,804.5 C15.8,806.5 17,806.5 18,805 L20,802.5" fill="none" stroke="#b03030" stroke-width="0.9"/>
<path d="M12.2,806.6 L14.4,802.2" fill="none" stroke="#1e8a1e" stroke-width="1" stroke-dasharray="1.4,0.9"/>
<path d="M13.6,803.8 C14.2,797.8 17.4,794.8 21.6,795 L21.2,791.9 L28,797.4 L22.6,802.6 L22.2,799.6 C19,799.4 16,800.6 13.6,803.8 z" fill="#5fdc4c" stroke="#1f8f1f" stroke-width="0.8" stroke-linejoin="round"/>
<path d="M16,799.6 C17.6,797.6 19.6,796.8 22.4,796.8 L22.3,794.4 L26,797.4" fill="none" stroke="#a8f59a" stroke-width="0.9"/>
<polygon points="20.9,806.9 27.3,806.9 24.1,810.3" fill="#000" stroke="#fff" stroke-width="1.8" stroke-linejoin="round" paint-order="stroke"/>
</g>
<g>
<circle cx="39.5" cy="797.8" r="4.4" fill="#000"/><circle cx="39.5" cy="806.2" r="4.4" fill="#000"/>
<circle cx="39.5" cy="797.8" r="3.5" fill="#fff"/><circle cx="39.5" cy="806.2" r="3.5" fill="#fff"/>
<rect x="38" y="796.2" width="3" height="11.6" rx="0.6" fill="#000"/><rect x="38.8" y="797.2" width="1.4" height="9.6" fill="#fff"/>
<g class="crisp"><rect x="48" y="797" width="1" height="9" fill="#b03838"/><rect x="46" y="798" width="5" height="6" fill="#c84848"/><rect x="47" y="799" width="3" height="4" fill="#f87878"/><rect x="54" y="791" width="1" height="15" fill="#1f8a28"/><rect x="52" y="794" width="5" height="9" fill="#1f9a2c"/><rect x="53" y="795" width="3" height="7" fill="#58e060"/></g>
<polygon points="48.7,806.9 55.1,806.9 51.9,810.3" fill="#000" stroke="#fff" stroke-width="1.8" stroke-linejoin="round" paint-order="stroke"/>
</g>
<g>
<g class="crisp"><rect x="68" y="795" width="13" height="15" fill="#000"/><rect x="69" y="796" width="11" height="13" fill="#fff"/>
<rect x="70" y="797" width="4" height="1" fill="#000"/><rect x="70" y="798" width="5" height="1" fill="#000"/><rect x="70" y="800" width="6" height="2" fill="#000"/><rect x="73" y="803" width="6" height="2" fill="#000"/><rect x="75" y="806" width="4" height="2" fill="#000"/><rect x="75" y="799" width="1" height="1" fill="#000"/><rect x="76" y="800" width="1" height="2" fill="#000"/><rect x="77" y="801" width="1" height="2" fill="#000"/><rect x="72" y="803" width="1" height="1" fill="#000"/><rect x="73" y="805" width="1" height="1" fill="#000"/><rect x="74" y="806" width="1" height="1" fill="#000"/></g>
<polygon points="75,796.4 80,796.4 77.5,799.4" fill="#e06878"/><polygon points="69.2,808.9 74.4,808.9 71.8,805.4" fill="#38b848"/>
</g>
<g class="crisp">
<rect x="94" y="794.00" width="9" height="3.2" fill="#3a9848"/><rect x="94.8" y="794.80" width="7.7" height="1.7" fill="#58b868"/>
<rect x="103" y="794.00" width="5" height="3.2" fill="#b86060"/><rect x="103.8" y="794.80" width="3.4" height="1.7" fill="#d87878"/>
<rect x="97" y="797.15" width="6" height="3.2" fill="#3a9848"/><rect x="97.8" y="797.95" width="4.7" height="1.7" fill="#40d050"/>
<rect x="103" y="797.15" width="8" height="3.2" fill="#b86060"/><rect x="103.8" y="797.95" width="6.4" height="1.7" fill="#f08080"/>
<rect x="95" y="800.30" width="8" height="3.2" fill="#3a9848"/><rect x="95.8" y="801.10" width="6.7" height="1.7" fill="#58b868"/>
<rect x="103" y="800.30" width="5" height="3.2" fill="#b86060"/><rect x="103.8" y="801.10" width="3.4" height="1.7" fill="#d87878"/>
<rect x="98" y="803.45" width="5" height="3.2" fill="#3a9848"/><rect x="98.8" y="804.25" width="3.7" height="1.7" fill="#40d050"/>
<rect x="103" y="803.45" width="8" height="3.2" fill="#b86060"/><rect x="103.8" y="804.25" width="6.4" height="1.7" fill="#f08080"/>
<rect x="94" y="806.60" width="9" height="3.2" fill="#3a9848"/><rect x="94.8" y="807.40" width="7.7" height="1.7" fill="#58b868"/>
<rect x="103" y="806.60" width="4" height="3.2" fill="#b86060"/><rect x="103.8" y="807.40" width="2.4" height="1.7" fill="#d87878"/>
<rect x="102.6" y="794" width="1" height="15.8" fill="#6a5248"/>
</g>
<g>
<g class="crisp"><rect x="1183" y="792" width="1" height="20" fill="#2c6a34"/><rect x="1180" y="794" width="7" height="16" fill="#2c7a34"/><rect x="1181" y="795" width="5" height="14" fill="#4cb85a"/><rect x="1175" y="800" width="1" height="12" fill="#6a4a5a"/><rect x="1172" y="802" width="7" height="8" fill="#8a5058"/><rect x="1173" y="803" width="5" height="6" fill="#d07070"/></g>
<path d="M1174.6,807.6 L1181.4,800.4" stroke="#fff" stroke-width="2.6" stroke-linecap="round" fill="none"/>
<path d="M1181.2,796.6 C1179.6,797.8 1179.4,800 1180.6,801.6 C1181.8,803 1184,803 1185.6,801.8 L1183,801.4 L1182,799.4 L1183.4,797.4 z" fill="#fff"/>
<path d="M1180.6,801.6 C1181.6,802.2 1183.8,802 1185.6,800.2" stroke="#fff" stroke-width="1.8" fill="none" stroke-linecap="round"/>
</g>
<radialGradient id="gLens" cx="0.42" cy="0.42" r="0.65"><stop offset="0" stop-color="#ffffff"/><stop offset="0.35" stop-color="#f0f0f0"/><stop offset="1" stop-color="#9a9a9a"/></radialGradient>
<line x1="1208.8" y1="803.0" x2="1215.2" y2="809.2" stroke="#000" stroke-width="2.9" stroke-linecap="round"/>
<circle cx="1205.2" cy="799.4" r="5" fill="url(#gLens)" stroke="#111" stroke-width="1.3"/>
<g stroke="#1010e8" stroke-width="1.4" fill="#1010e8"><line x1="1215.5" y1="796" x2="1215.5" y2="803"/><polygon points="1213,797.4 1218,797.4 1215.5,794" stroke="none"/><polygon points="1213,801.6 1218,801.6 1215.5,805" stroke="none"/><line x1="1201" y1="808.5" x2="1207" y2="808.5"/><polygon points="1202.6,806 1202.6,811 1199.2,808.5" stroke="none"/><polygon points="1205.4,806 1205.4,811 1208.8,808.5" stroke="none"/></g>
<line x1="1237.472" y1="803.272" x2="1243.4" y2="809.2" stroke="#000" stroke-width="2.9" stroke-linecap="round"/>
<circle cx="1233.8" cy="799.6" r="5.1" fill="#ffffff" stroke="#111" stroke-width="1.3"/>
<line x1="1230.5" y1="799.6" x2="1237.1" y2="799.6" stroke="#1010c8" stroke-width="1.5"/>
<line x1="1265.272" y1="803.272" x2="1271.4" y2="809.2" stroke="#000" stroke-width="2.9" stroke-linecap="round"/>
<circle cx="1261.6" cy="799.6" r="5.1" fill="#ffffff" stroke="#111" stroke-width="1.3"/>
<line x1="1258.3" y1="799.6" x2="1264.8999999999999" y2="799.6" stroke="#1010c8" stroke-width="1.5"/>
<line x1="1261.6" y1="796.3000000000001" x2="1261.6" y2="802.9" stroke="#1010c8" stroke-width="1.5"/>
</svg>
</body>
</html>
